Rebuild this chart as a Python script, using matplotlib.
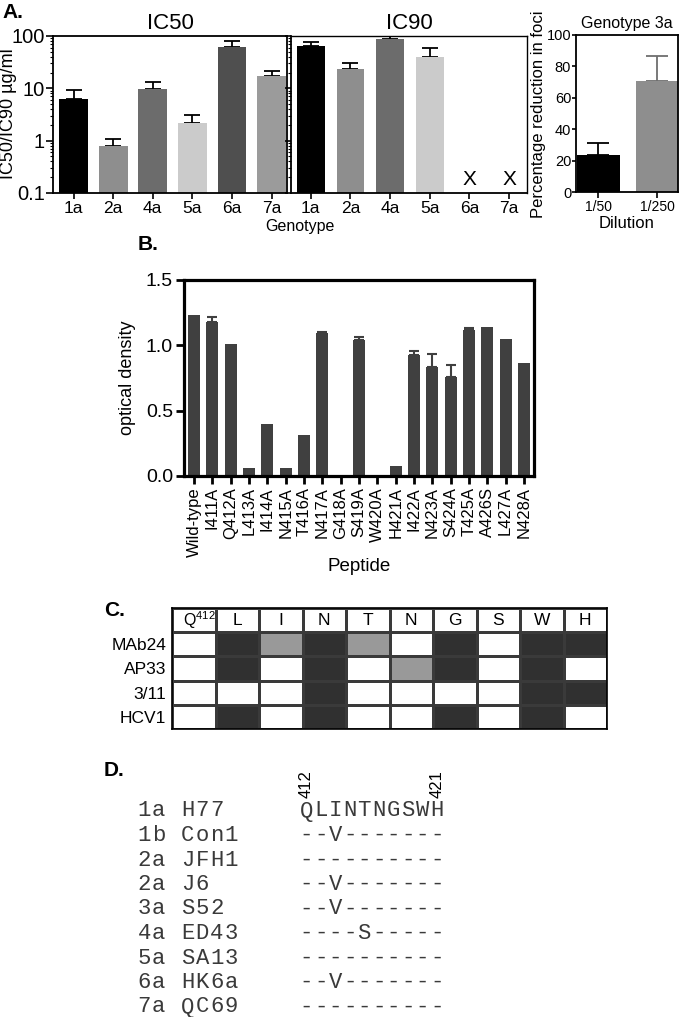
import numpy as np
import matplotlib.pyplot as plt
from matplotlib.colors import ListedColormap

plt.rcParams['font.family'] = ['Liberation Sans', 'DejaVu Sans']
plt.rcParams['mathtext.default'] = 'regular'

W, H = 680, 1017

# ---------------- data ----------------
# A. neutralisation
genotypes = ['1a', '2a', '4a', '5a', '6a', '7a']
ic50 = [6.2, 0.8, 9.6, 2.2, 62, 17]
ic50_top = [9.3, 1.1, 13.4, 3.05, 79, 21]
ic90 = [65, 23, 86, 39, np.nan, np.nan]
ic90_top = [78, 31, 103, 60, np.nan, np.nan]
bar_greys = ['#000000', '#8e8e8e', '#6c6c6c', '#cbcbcb', '#4f4f4f', '#9b9b9b']

dilutions = ['1/50', '1/250']
foci_reduction = [23.6, 70.8]
foci_top = [30.9, 86.4]
dil_colors = ['#000000', '#8e8e8e']
dil_err_colors = ['#000000', '#6e6e6e']

# B. alanine scan
peptides = ['Wild-type', 'I411A', 'Q412A', 'L413A', 'I414A', 'N415A', 'T416A',
            'N417A', 'G418A', 'S419A', 'W420A', 'H421A', 'I422A', 'N423A',
            'S424A', 'T425A', 'A426S', 'L427A', 'N428A']
od = [1.234, 1.18, 1.01, 0.059, 0.40, 0.059, 0.31, 1.096, 0.005, 1.04,
      0.004, 0.074, 0.928, 0.833, 0.759, 1.117, 1.137, 1.045, 0.861]
od_top = [np.nan, 1.22, np.nan, np.nan, np.nan, np.nan, np.nan, 1.10, np.nan,
          1.066, np.nan, np.nan, 0.956, 0.933, 0.846, 1.13, np.nan, np.nan, np.nan]

# C. epitope contacts (0 none, 1 partial, 2 critical)
residues = ['Q$^{412}$', 'L', 'I', 'N', 'T', 'N', 'G', 'S', 'W', 'H']
antibodies = ['MAb24', 'AP33', '3/11', 'HCV1']
contacts = [[0, 2, 1, 2, 1, 0, 2, 0, 2, 2],
            [0, 2, 0, 2, 0, 1, 2, 0, 2, 0],
            [0, 0, 0, 2, 0, 0, 0, 0, 2, 2],
            [0, 2, 0, 2, 0, 0, 2, 0, 2, 0]]

# D. alignment
strains = ['1a H77', '1b Con1', '2a JFH1', '2a J6', '3a S52',
           '4a ED43', '5a SA13', '6a HK6a', '7a QC69']
sequences = ['QLINTNGSWH', '--V-------', '----------', '--V-------',
             '--V-------', '----S-----', '----------', '--V-------',
             '----------']
first_res, last_res = 412, 421

fig = plt.figure(figsize=(W / 100, H / 100), dpi=100)


def px_axes(x0, y0, x1, y1):
    return fig.add_axes([x0 / W, 1 - y1 / H, (x1 - x0) / W, (y1 - y0) / H])


def one_sided(ax, x, vals, tops, color, capsize, lw=1.3):
    vals = np.asarray(vals, float)
    tops = np.asarray(tops, float)
    ok = ~np.isnan(tops)
    x = np.asarray(x)[ok]
    ax.errorbar(x, vals[ok], yerr=[np.zeros(ok.sum()), tops[ok] - vals[ok]],
                fmt='none', ecolor=color, elinewidth=lw, capsize=capsize,
                capthick=lw, zorder=1)


# ---------------- panel A ----------------
x = np.arange(len(genotypes))

ax50 = px_axes(53, 36, 287, 193)
ax50.bar(x, ic50, width=0.73, color=bar_greys, zorder=2)
one_sided(ax50, x, ic50, ic50_top, 'k', 5.5)
ax50.set_yscale('log')
ax50.set_ylim(0.1, 100)
ax50.set_xlim(-0.52, 5.39)
ax50.set_yticks([0.1, 1, 10, 100])
ax50.set_yticklabels(['0.1', '1', '10', '100'], fontsize=14.5)
ax50.set_xticks(x)
ax50.set_xticklabels(genotypes, fontsize=12.5)
ax50.tick_params(axis='x', length=4, width=1.2, pad=2)
ax50.tick_params(axis='y', which='major', length=5, width=1.2, pad=1)
ax50.tick_params(axis='y', which='minor', length=2.5, width=0.8)
ax50.set_title('IC50', fontsize=16, pad=5)
for s in ax50.spines.values():
    s.set_linewidth(1.3)
fig.text(9 / W, 1 - 114 / H, 'IC50/IC90 \u00b5g/ml', rotation=90,
         ha='center', va='center', fontsize=13)

ax90 = px_axes(291, 36, 527, 193)
ax90.bar(x, ic90, width=0.7, color=bar_greys, zorder=2)
one_sided(ax90, x, ic90, ic90_top, 'k', 5.5)
for i, v in enumerate(ic90):
    if np.isnan(v):
        ax90.text(i, 0.18, 'X', ha='center', va='center', fontsize=15)
ax90.set_yscale('log')
ax90.set_ylim(0.1, 100)
ax90.set_xlim(-0.5, 5.45)
ax90.set_yticks([0.1, 1, 10, 100])
ax90.set_yticklabels([])
ax90.set_xticks(x)
ax90.set_xticklabels(genotypes, fontsize=12.5)
ax90.tick_params(axis='x', length=4, width=1.2, pad=2)
ax90.tick_params(axis='y', which='major', length=4, width=1.2)
ax90.tick_params(axis='y', which='minor', length=2.5, width=0.8)
ax90.set_title('IC90', fontsize=16, pad=5)
for s in ax90.spines.values():
    s.set_linewidth(1.0)
ax90.spines['left'].set_linewidth(1.3)
ax90.spines['bottom'].set_linewidth(1.3)
fig.text(300 / W, 1 - 226 / H, 'Genotype', ha='center', va='center', fontsize=11.5)

ax3a = px_axes(576, 35, 678, 192)
xd = np.arange(len(dilutions))
ax3a.bar(xd, foci_reduction, width=0.73, color=dil_colors, zorder=2)
for i in range(len(dilutions)):
    one_sided(ax3a, [xd[i]], [foci_reduction[i]], [foci_top[i]],
              dil_err_colors[i], 8)
ax3a.set_ylim(0, 100)
ax3a.set_xlim(-0.38, 1.35)
ax3a.set_yticks([0, 20, 40, 60, 80, 100])
ax3a.tick_params(axis='y', labelsize=10.5, length=3, width=1.2, pad=0.5)
ax3a.set_xticks(xd)
ax3a.set_xticklabels(dilutions, fontsize=10)
ax3a.tick_params(axis='x', length=4, width=1.2, pad=2)
ax3a.set_title('Genotype 3a', fontsize=11.5, pad=5)
ax3a.set_xlabel('Dilution', fontsize=12, labelpad=1)
for s in ax3a.spines.values():
    s.set_linewidth(1.3)
fig.text(539 / W, 1 - 114 / H, 'Percentage reduction in foci', rotation=90,
         ha='center', va='center', fontsize=12)

fig.text(2 / W, 1 - 12 / H, 'A.', fontsize=15, fontweight='bold', va='center')

# ---------------- panel B ----------------
axb = px_axes(184, 280, 534, 476)
xp = np.arange(len(peptides))
axb.bar(xp, od, width=0.65, color='#404040', zorder=2)
one_sided(axb, xp, od, od_top, '#404040', 3.5, lw=1.5)
axb.set_ylim(0, 1.5)
axb.set_xlim(-0.55, len(peptides) - 0.45)
axb.set_yticks([0, 0.5, 1.0, 1.5])
axb.set_yticklabels(['0.0', '0.5', '1.0', '1.5'])
axb.tick_params(axis='y', labelsize=14, length=6, width=2, pad=2)
axb.set_xticks(xp)
axb.set_xticklabels(peptides, rotation=90, fontsize=12)
axb.tick_params(axis='x', length=6, width=2, pad=2)
axb.set_xlabel('Peptide', fontsize=13.5, labelpad=1)
for s in axb.spines.values():
    s.set_linewidth(2.3)
fig.text(128 / W, 1 - 378 / H, 'optical density', rotation=90,
         ha='center', va='center', fontsize=13)
fig.text(138 / W, 1 - 244 / H, 'B.', fontsize=15, fontweight='bold', va='center')

# ---------------- panel C ----------------
axc = px_axes(172, 608, 607, 729)
grid = np.vstack([np.zeros((1, len(residues))), np.array(contacts)])
cmap = ListedColormap(['#ffffff', '#999999', '#303030'])
axc.pcolormesh(grid, cmap=cmap, vmin=-0.5, vmax=2.5,
               edgecolors='#3a3a3a', linewidth=1.0)
axc.set_xlim(0, len(residues))
axc.set_ylim(len(antibodies) + 1, 0)
for j, r in enumerate(residues):
    if j == 0:
        axc.text(j + 0.62, 0.5, r, ha='center', va='center', fontsize=11.5)
    else:
        axc.text(j + 0.5, 0.5, r, ha='center', va='center', fontsize=12.5)
axc.set_yticks(np.arange(len(antibodies)) + 1.5)
axc.set_yticklabels(antibodies, fontsize=12.5)
axc.set_xticks([])
axc.tick_params(axis='y', length=0, pad=4)
for s in axc.spines.values():
    s.set_linewidth(1.2)
fig.text(104 / W, 1 - 611 / H, 'C.', fontsize=15, fontweight='bold', va='center')

# ---------------- panel D ----------------
fig.text(104 / W, 1 - 770 / H, 'D.', fontsize=15, fontweight='bold', va='center')
char_w = 14.5
seq_x = 299
name_x = 137
row0, row_step = 811, 24.5
for i, (name, seq) in enumerate(zip(strains, sequences)):
    y = 1 - (row0 + i * row_step) / H
    for text, x0 in [(name, name_x), (seq, seq_x)]:
        for k, ch in enumerate(text):
            fig.text((x0 + (k + 0.5) * char_w) / W, y, ch,
                     family='Liberation Mono', fontsize=16, ha='center',
                     va='center', color='#3a3a3a')
n = len(sequences[0])
for pos, label in [(0, first_res), (n - 1, last_res)]:
    fig.text((seq_x + (pos + 0.5) * char_w) / W, 1 - 798 / H, str(label),
             rotation=90, ha='center', va='bottom', fontsize=12)

fig.savefig('out.png', dpi=100)
